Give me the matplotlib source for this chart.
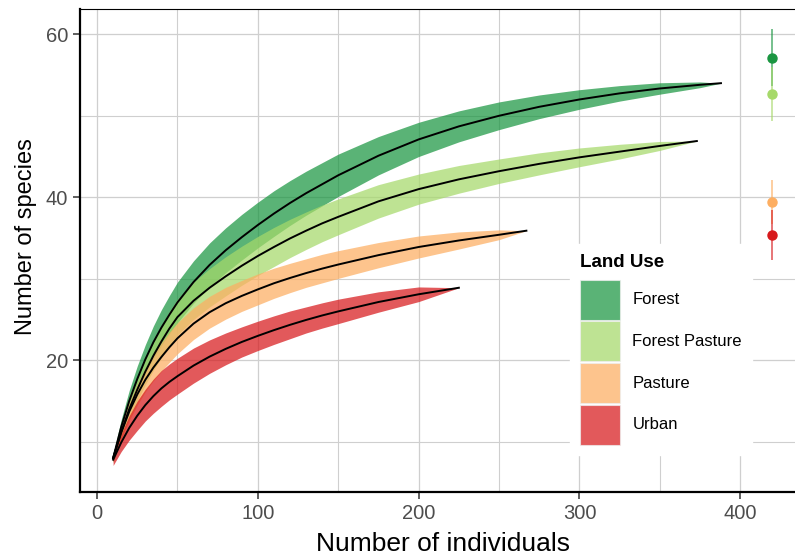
import matplotlib

matplotlib.use("Agg")
import matplotlib.pyplot as plt
from matplotlib.patches import Patch

plt.rcParams["font.family"] = ["Liberation Sans", "DejaVu Sans"]

LAND_USES = ["Forest", "Forest Pasture", "Pasture", "Urban"]
COLORS = ["#1A9641", "#A6D96A", "#FDAE61", "#D7191C"]

# rarefied richness (number of individuals -> species) and half width of the band
FOREST_N = [10, 15, 20, 25, 30, 35, 40, 45, 50, 60, 70, 80, 90, 100, 110, 120, 130, 140, 150,
            175, 200, 225, 250, 275, 300, 325, 350, 375, 388]
FOREST_S = [8.0, 11.8, 15.0, 17.7, 20.1, 22.2, 24.0, 25.6, 27.1, 29.6, 31.7, 33.5, 35.1, 36.6, 38.0,
            39.3, 40.5, 41.6, 42.7, 45.1, 47.1, 48.7, 50.0, 51.1, 52.0, 52.75, 53.35, 53.8, 54.0]
FOREST_HW = [0.5, 0.9, 1.3, 1.6, 1.8, 2.0, 2.2, 2.35, 2.5, 2.6, 2.7, 2.75, 2.8, 2.8, 2.8,
             2.75, 2.7, 2.65, 2.6, 2.35, 2.1, 1.9, 1.7, 1.45, 1.2, 0.95, 0.7, 0.35, 0.0]

FP_N = [10, 15, 20, 25, 30, 35, 40, 45, 50, 60, 70, 80, 90, 100, 110, 120, 130, 140, 150,
        175, 200, 225, 250, 275, 300, 325, 350, 373]
FP_S = [8.0, 11.2, 14.0, 16.4, 18.6, 20.55, 22.3, 23.9, 25.3, 27.3, 28.9, 30.3, 31.6, 32.8, 33.9,
        34.95, 35.9, 36.8, 37.6, 39.5, 41.0, 42.2, 43.2, 44.1, 44.9, 45.6, 46.3, 46.9]
FP_HW = [0.5, 0.8, 1.1, 1.4, 1.6, 1.8, 2.0, 2.1, 2.2, 2.3, 2.35, 2.4, 2.4, 2.4, 2.4,
         2.35, 2.3, 2.25, 2.2, 2.05, 1.85, 1.7, 1.5, 1.35, 1.15, 0.9, 0.55, 0.0]

PASTURE_N = [10, 15, 20, 25, 30, 35, 40, 45, 50, 60, 70, 80, 90, 100, 110, 120, 130, 140, 150,
             175, 200, 225, 250, 267]
PASTURE_S = [8.0, 11.1, 13.7, 15.8, 17.6, 19.1, 20.4, 21.6, 22.7, 24.5, 25.9, 27.0, 27.9, 28.7, 29.45,
             30.1, 30.7, 31.25, 31.75, 32.9, 33.9, 34.7, 35.4, 35.9]
PASTURE_HW = [0.5, 0.8, 1.1, 1.3, 1.45, 1.6, 1.75, 1.85, 1.9, 1.95, 1.95, 1.95, 1.9, 1.9, 1.85,
              1.8, 1.75, 1.75, 1.7, 1.55, 1.35, 1.05, 0.6, 0.0]

URBAN_N = [10, 15, 20, 25, 30, 35, 40, 45, 50, 60, 70, 80, 90, 100, 110, 120, 130, 140, 150,
           175, 200, 225]
URBAN_S = [7.8, 9.9, 11.7, 13.2, 14.5, 15.6, 16.55, 17.35, 18.05, 19.35, 20.45, 21.4, 22.25, 23.0, 23.7,
           24.35, 24.95, 25.5, 26.0, 27.15, 28.1, 28.9]
URBAN_HW = [0.7, 1.1, 1.5, 1.8, 1.95, 2.1, 2.2, 2.2, 2.2, 2.15, 2.05, 1.95, 1.85, 1.8, 1.75,
            1.7, 1.6, 1.55, 1.5, 1.25, 0.9, 0.0]

# extrapolated richness estimates shown at the right
EST_X = 420
EST_S = [57.1, 52.7, 39.4, 35.4]
EST_LO = [53.6, 49.4, 36.7, 32.3]
EST_HI = [60.6, 56.0, 42.1, 38.5]

CURVES = [
    (FOREST_N, FOREST_S, FOREST_HW),
    (FP_N, FP_S, FP_HW),
    (PASTURE_N, PASTURE_S, PASTURE_HW),
    (URBAN_N, URBAN_S, URBAN_HW),
]


def main() -> None:
    fig = plt.figure(figsize=(7.95, 5.56), dpi=100)
    # panel runs a little past the right edge of the image, as in the original crop
    ax = fig.add_axes([80 / 795, 64 / 556, 727 / 795, 483 / 556])

    for (n, s, hw), color in zip(CURVES, COLORS):
        lo = [a - b for a, b in zip(s, hw)]
        hi = [a + b for a, b in zip(s, hw)]
        ax.fill_between(n, lo, hi, color=color, alpha=0.72, linewidth=0, zorder=2)
    for n, s, hw in CURVES:
        ax.plot(n, s, color="black", linewidth=1.4, zorder=3, solid_joinstyle="round")

    for est, lo, hi, color in zip(EST_S, EST_LO, EST_HI, COLORS):
        ax.vlines(EST_X, lo, hi, color=color, alpha=0.6, linewidth=1.4, zorder=3)
        ax.plot([EST_X], [est], "o", color=color, markersize=6.5, zorder=4)

    ax.set_xlim(-10.6, 441.5)
    ax.set_ylim(3.84, 63.1)
    ax.set_xticks([0, 100, 200, 300, 400])
    ax.set_xticks([50, 150, 250, 350], minor=True)
    ax.set_yticks([20, 40, 60])
    ax.set_yticks([10, 30, 50], minor=True)
    ax.grid(which="major", color="#cfcfcf", linewidth=0.9, zorder=0)
    ax.grid(which="minor", color="#cfcfcf", linewidth=0.8, zorder=0)
    ax.set_axisbelow(True)
    ax.tick_params(which="major", labelsize=14.5, labelcolor="#4d4d4d", length=5, width=1.1, color="#333333")
    ax.tick_params(which="minor", length=0)
    ax.set_xlabel("Number of individuals", fontsize=19)
    ax.set_ylabel("Number of species", fontsize=17)
    ax.xaxis.set_label_coords(0.5, (492 - 532) / 483)
    ax.yaxis.set_label_coords((37 - 80) / 727, (492 - 237) / 483)
    for side in ["left", "bottom"]:
        ax.spines[side].set_linewidth(1.6)
    for side in ["top", "right"]:
        ax.spines[side].set_linewidth(0.8)

    handles = [Patch(facecolor=c, alpha=0.72, edgecolor="#eeeeee", linewidth=0.8) for c in COLORS]
    leg = ax.legend(
        handles, LAND_USES, title="Land Use", loc="upper left",
        bbox_to_anchor=(562 / 795, 1 - 236 / 556), bbox_transform=fig.transFigure,
        fontsize=12, title_fontproperties={"weight": "bold", "size": 13.5},
        handlelength=2.4, handleheight=3.315, labelspacing=0.1, handletextpad=0.72,
        borderpad=0.6, frameon=True, fancybox=False, framealpha=1.0,
        edgecolor="white",
    )
    leg._legend_box.align = "left"
    leg._legend_box.sep = 6
    leg.set_zorder(5)

    fig.savefig("out.png", dpi=100)


if __name__ == "__main__":
    main()
